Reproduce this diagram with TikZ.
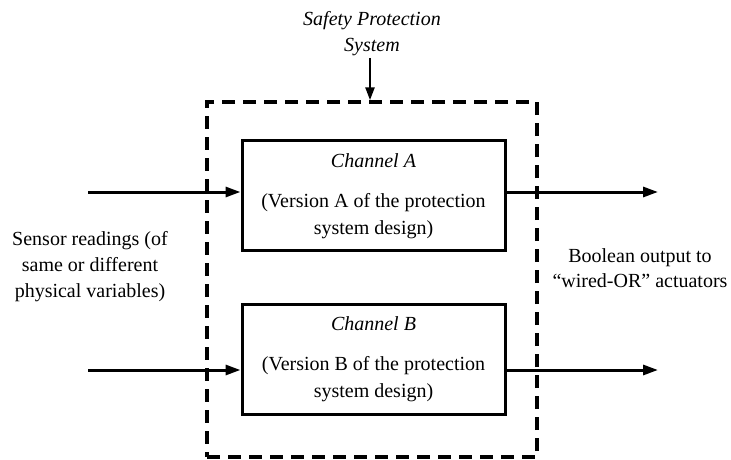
\documentclass[tikz,border=0pt]{standalone}
\usepackage{fontspec}
\setmainfont{Liberation Serif}
\usetikzlibrary{arrows.meta}
\begin{document}
\begin{tikzpicture}[x=1pt, y=-1pt,
  font=\fontsize{20}{24}\selectfont,
  txt/.style={anchor=base, inner sep=0pt},
  chanbox/.style={draw, line width=3pt, minimum width=263pt, minimum height=110pt, inner sep=0pt},
  sysbox/.style={draw, line width=3.5pt, dash pattern=on 13pt off 8pt, minimum width=330pt, minimum height=355pt, inner sep=0pt},
  flow/.style={line width=3pt, -{Triangle[length=15pt,width=10pt]}},
  feed/.style={line width=2.5pt, -{Triangle[length=13pt,width=9pt]}}]
\useasboundingbox (0,0) rectangle (731,460);

% enclosing protection system and the two channels
\node[sysbox] (sps) at (372,279.5) {};
\node[chanbox] (chA) at (373.5,195) {};
\node[chanbox] (chB) at (373.5,359) {};

% title and its pointer
\node[txt] (t1) at (372,26) {\textit{Safety Protection}};
\node[txt] (t2) at (372,52) {\textit{System}};
\coordinate (ttop) at (370,58);
\draw[feed] (ttop) -- (ttop |- sps.north);

% channel texts
\node[txt] (a1) at (373.5,167) {\textit{Channel A}};
\node[txt] (a2) at (373.5,207) {(Version A of the protection};
\node[txt] (a3) at (373.5,234) {system design)};
\node[txt] (b1) at (373.5,330) {\textit{Channel B}};
\node[txt] (b2) at (373.5,370) {(Version B of the protection};
\node[txt] (b3) at (373.5,397) {system design)};

% inputs
\coordinate (inA) at (88,192);
\coordinate (inB) at (88,370);
\draw[flow] (inA) -- (inA -| chA.west);
\draw[flow] (inB) -- (inB -| chB.west);

% outputs
\coordinate (outA) at (658,192);
\coordinate (outB) at (658,370);
\draw[flow] (outA -| chA.east) -- (outA);
\draw[flow] (outB -| chB.east) -- (outB);

% side labels
\node[txt] (l1) at (90,245) {Sensor readings (of};
\node[txt] (l2) at (90,271) {same or different};
\node[txt] (l3) at (90,297) {physical variables)};
\node[txt] (r1) at (640,262) {Boolean output to};
\node[txt] (r2) at (640,287) {``wired-OR'' actuators};
\end{tikzpicture}
\end{document}
